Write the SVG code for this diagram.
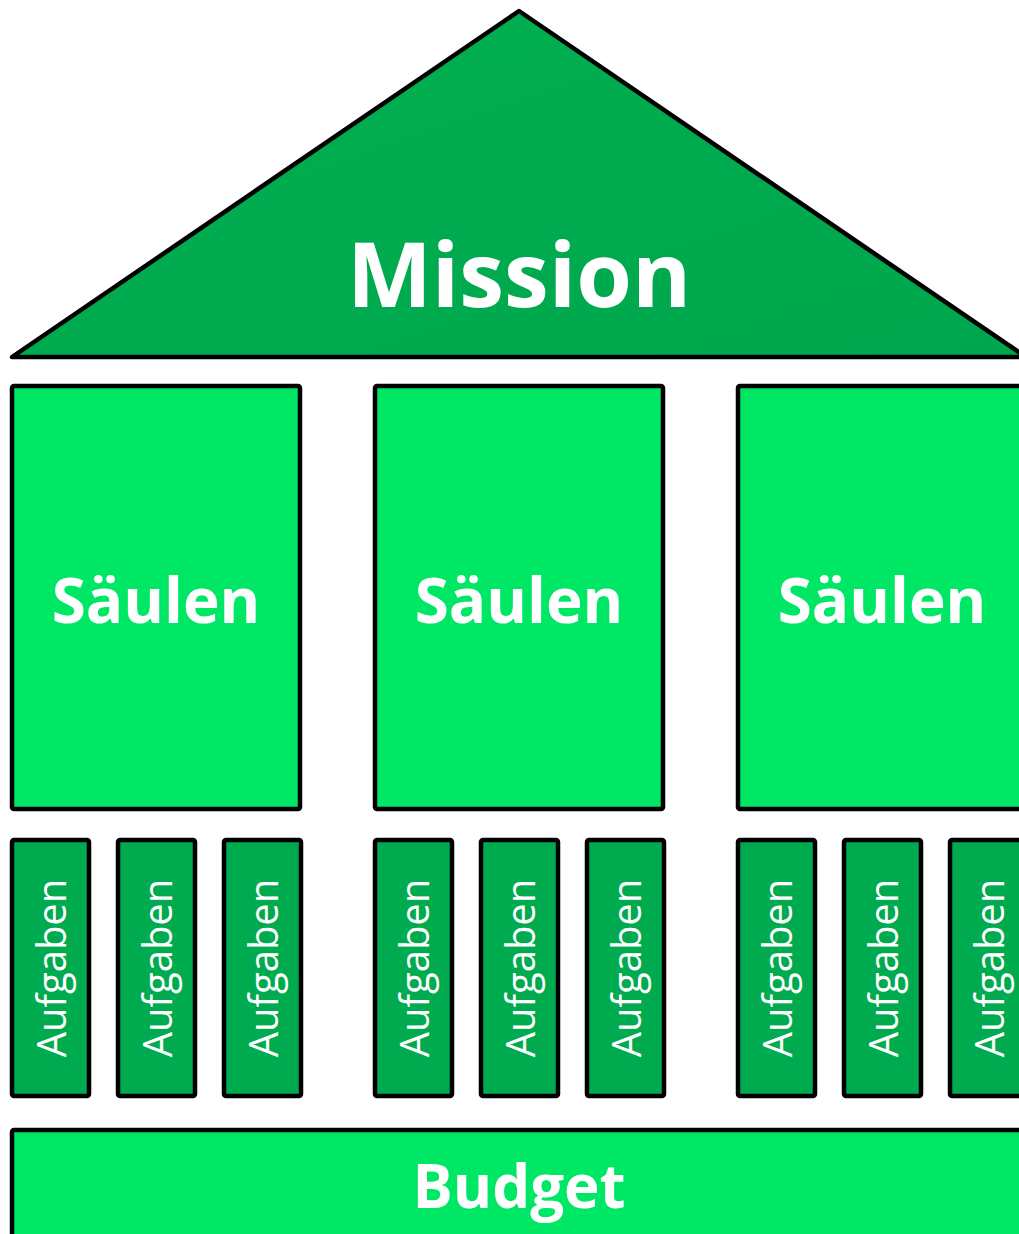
<svg xmlns="http://www.w3.org/2000/svg" width="1019" height="1234" viewBox="0 0 1019 1234">
<defs>
<linearGradient id="roof" x1="0" y1="0" x2="1" y2="1">
<stop offset="0" stop-color="#00B050"/>
<stop offset="1" stop-color="#00A64D"/>
</linearGradient>
</defs>
<style>
.pillar{fill:#00E766;stroke:#000;stroke-width:4.5;stroke-linejoin:round}
.task{fill:#00AA4E;stroke:#000;stroke-width:4.5;stroke-linejoin:round}
.big{font-family:"Open Sans","Liberation Sans",sans-serif;font-weight:bold;fill:#fff;text-anchor:middle}
.t{font-family:"Open Sans","Liberation Sans",sans-serif;font-size:40px;fill:#fff;text-anchor:middle}
</style>
<rect width="1019" height="1234" fill="#fff"/>
<g id="mission">
<polygon points="519,11 1026,357 12,357" fill="url(#roof)" stroke="#000" stroke-width="4.5" stroke-linejoin="round"/>
<text class="big" x="519" y="307" font-size="90">Mission</text>
</g>
<g id="saeule1"><rect class="pillar" x="12" y="386" width="288" height="423" rx="2"/><text class="big" x="156" y="623" font-size="62">Säulen</text></g>
<g id="saeule2"><rect class="pillar" x="375" y="386" width="288" height="423" rx="2"/><text class="big" x="519" y="623" font-size="62">Säulen</text></g>
<g id="saeule3"><rect class="pillar" x="738" y="386" width="288" height="423" rx="2"/><text class="big" x="882" y="623" font-size="62">Säulen</text></g>
<g id="aufgabe1"><rect class="task" x="12" y="840" width="77" height="256" rx="2"/><text class="t" transform="translate(66,968) rotate(-90)">Aufgaben</text></g>
<g id="aufgabe2"><rect class="task" x="118" y="840" width="77" height="256" rx="2"/><text class="t" transform="translate(172,968) rotate(-90)">Aufgaben</text></g>
<g id="aufgabe3"><rect class="task" x="224" y="840" width="77" height="256" rx="2"/><text class="t" transform="translate(278,968) rotate(-90)">Aufgaben</text></g>
<g id="aufgabe4"><rect class="task" x="375" y="840" width="77" height="256" rx="2"/><text class="t" transform="translate(429,968) rotate(-90)">Aufgaben</text></g>
<g id="aufgabe5"><rect class="task" x="481" y="840" width="77" height="256" rx="2"/><text class="t" transform="translate(535,968) rotate(-90)">Aufgaben</text></g>
<g id="aufgabe6"><rect class="task" x="587" y="840" width="77" height="256" rx="2"/><text class="t" transform="translate(641,968) rotate(-90)">Aufgaben</text></g>
<g id="aufgabe7"><rect class="task" x="738" y="840" width="77" height="256" rx="2"/><text class="t" transform="translate(792,968) rotate(-90)">Aufgaben</text></g>
<g id="aufgabe8"><rect class="task" x="844" y="840" width="77" height="256" rx="2"/><text class="t" transform="translate(898,968) rotate(-90)">Aufgaben</text></g>
<g id="aufgabe9"><rect class="task" x="950" y="840" width="77" height="256" rx="2"/><text class="t" transform="translate(1004,968) rotate(-90)">Aufgaben</text></g>
<g id="budget"><rect class="pillar" x="12" y="1130" width="1014" height="120" rx="2"/><text class="big" x="519" y="1208" font-size="60">Budget</text></g>
<g id="connectors"></g>
</svg>
